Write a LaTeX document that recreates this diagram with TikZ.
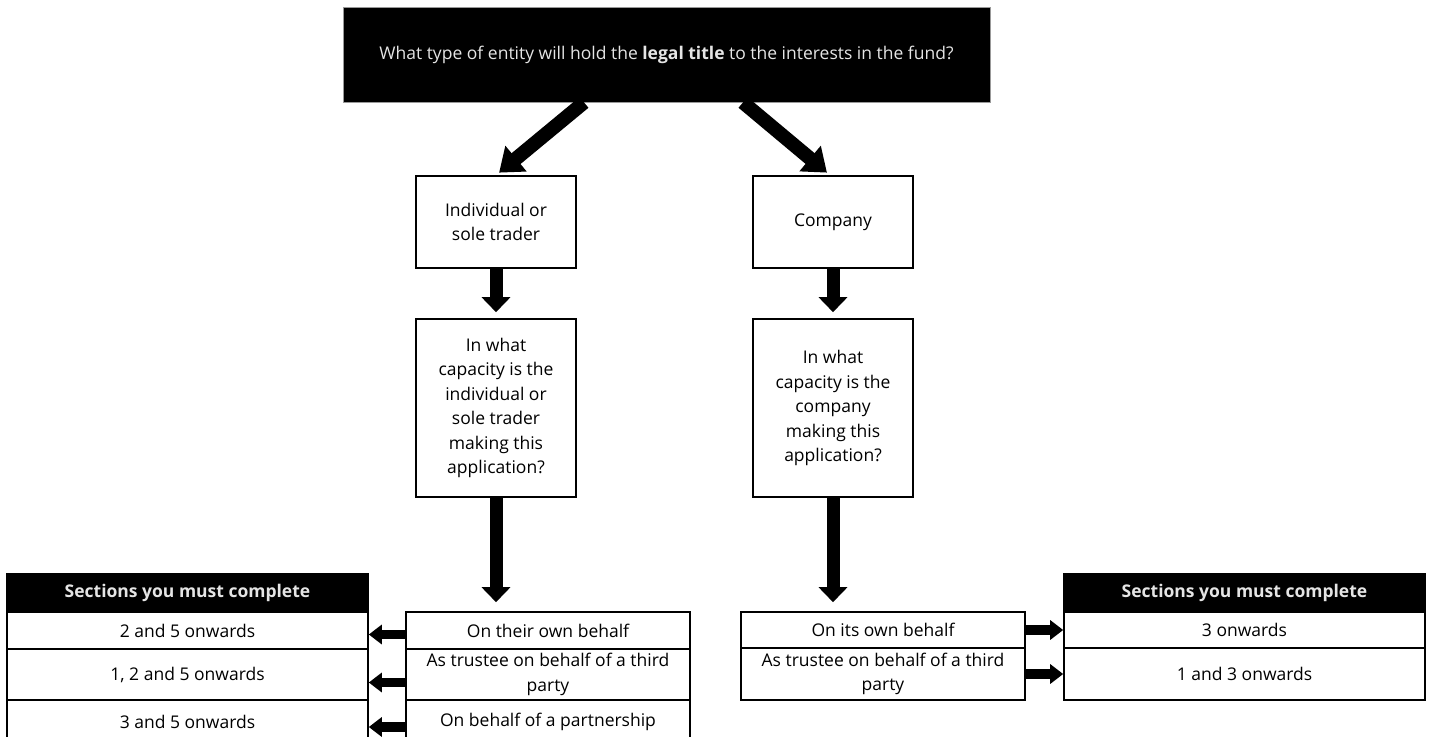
\documentclass[tikz,border=0pt]{standalone}
\usepackage{fontspec}
\setmainfont{Open Sans}
\usetikzlibrary{positioning,arrows.meta}

\begin{document}
\begin{tikzpicture}[x=1pt,y=-1pt,
  box/.style={draw,line width=1.6pt,align=center,inner sep=0pt,font=\fontsize{17.5}{24.5}\selectfont},
  blackbox/.style={box,fill=black,text=white!90!black},
  bigarrow/.style={line width=14pt,-{Triangle[width=32pt,length=22pt]}},
  downarrow/.style={line width=13pt,-{Triangle[width=28pt,length=15pt]}},
  sidearrow/.style={line width=9.5pt,-{Triangle[width=19pt,length=13pt]}}]
  \useasboundingbox[fill=white] (0,0) rectangle (1434,736);
  % question
  \node[blackbox,draw=black!40,line width=0.8pt,minimum width=647pt,minimum height=95pt] (top) at (666.5,54.5)
    {What type of entity will hold the \textbf{legal title} to the interests in the fund?};
  \node[box,minimum width=160pt,minimum height=92pt] (indiv) at (496,222) {Individual or\\sole trader};
  \node[box,minimum width=160pt,minimum height=92pt] (comp) at (833,222) {Company};
  \node[box,minimum width=160pt,minimum height=178pt] (capl) at (496,408)
    {In what\\capacity is the\\individual or\\sole trader\\making this\\application?};
  \node[box,minimum width=160pt,minimum height=178pt] (capr) at (833,408)
    {In what\\capacity is the\\company\\making this\\application?};
  % capacities
  \node[box,minimum width=284pt,minimum height=37pt] (optl1) at (548,630.5) {On their own behalf};
  \node[box,minimum width=284pt,minimum height=51pt] (optl2) at (548,674.5) {As trustee on behalf of a third\\party};
  \node[box,minimum width=284pt,minimum height=44pt] (optl3) at (548,722) {On behalf of a partnership};
  \node[box,minimum width=284pt,minimum height=36pt] (optr1) at (883,630) {On its own behalf};
  \node[box,minimum width=284pt,minimum height=52pt] (optr2) at (883,674) {As trustee on behalf of a third\\party};
  % sections
  \node[blackbox,minimum width=361pt,minimum height=38pt] (headl) at (187.5,593) {\textbf{Sections you must complete}};
  \node[box,minimum width=361pt,minimum height=37pt] (secl1) at (187.5,630.5) {2 and 5 onwards};
  \node[box,minimum width=361pt,minimum height=51pt] (secl2) at (187.5,674.5) {1, 2 and 5 onwards};
  \node[box,minimum width=361pt,minimum height=44pt] (secl3) at (187.5,722) {3 and 5 onwards};
  \node[blackbox,minimum width=361pt,minimum height=38pt] (headr) at (1244.5,593) {\textbf{Sections you must complete}};
  \node[box,minimum width=361pt,minimum height=36pt] (secr1) at (1244.5,630) {3 onwards};
  \node[box,minimum width=361pt,minimum height=52pt] (secr2) at (1244.5,674) {1 and 3 onwards};
  % arrows
  \draw[bigarrow,shorten >=4pt] ([xshift=-82.5pt]top.south) -- (indiv.north);
  \draw[bigarrow,shorten >=4pt] ([xshift=76.5pt]top.south) -- ([xshift=-3pt]comp.north);
  \draw[downarrow,shorten >=6pt] (indiv.south) -- (capl.north);
  \draw[downarrow,shorten >=6pt] (comp.south) -- (capr.north);
  \draw[downarrow,shorten >=9pt] (capl.south) -- (capl.south |- optl1.north);
  \draw[downarrow,shorten >=9pt] (capr.south) -- (capr.south |- optr1.north);
  \draw[sidearrow] ([yshift=-4pt]optl1.west) -- ([yshift=-4pt]secl1.east);
  \draw[sidearrow] ([yshift=-8pt]optl2.west) -- ([yshift=-8pt]secl2.east);
  \draw[sidearrow] ([yshift=-5pt]optl3.west) -- ([yshift=-5pt]secl3.east);
  \draw[sidearrow] (optr1.east) -- (secr1.west);
  \draw[sidearrow] (optr2.east) -- (secr2.west);
\end{tikzpicture}
\end{document}
